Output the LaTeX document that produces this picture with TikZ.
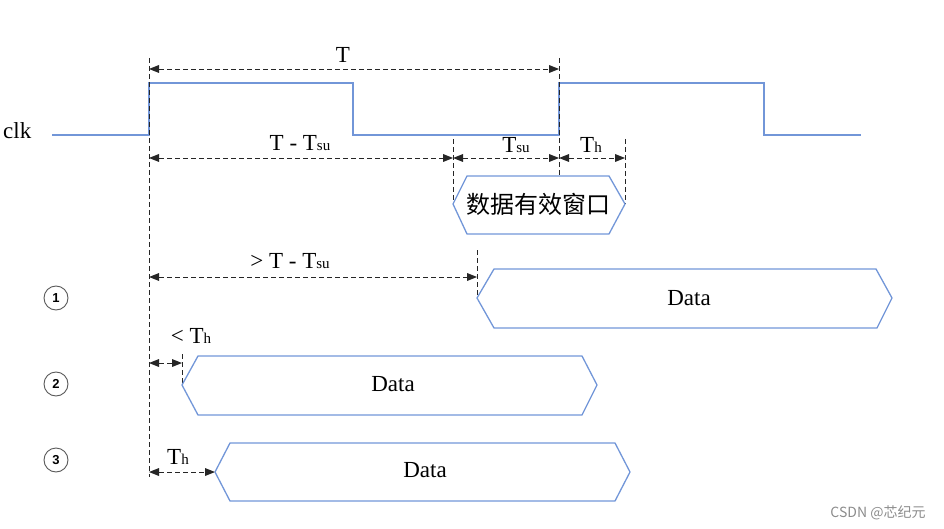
\documentclass[tikz,border=0pt]{standalone}
\usepackage{fontspec}
\setmainfont{Liberation Serif}
\newfontfamily\cjk{Noto Sans CJK SC}
\newfontfamily\numfont{Liberation Sans}
\usetikzlibrary{arrows.meta}
\definecolor{wavec}{RGB}{114,150,216}
\newcommand\lowsub[1]{{\fontsize{15}{15}\selectfont #1}}
\tikzset{
  wave/.style={draw=wavec, line width=1.3pt, line join=miter},
  guide/.style={draw=black!85, dash pattern=on 5pt off 3pt, line width=0.85pt},
  tipA/.tip={Triangle[length=10pt,width=8pt,line width=0pt]},
  dim/.style={guide, arrows={tipA-tipA}},
  lbl/.style={font=\fontsize{23}{23}\selectfont, inner sep=0pt},
  circ/.style={circle, draw=black!65, line width=0.9pt, minimum size=24pt, inner sep=0pt, font=\numfont\bfseries\fontsize{13}{13}\selectfont},
  hexa/.style={draw=wavec, line width=1.3pt, line join=miter}}
\begin{document}
\begin{tikzpicture}[x=1pt,y=-1pt]
\useasboundingbox (0,0) rectangle (944,529);
% clock
\node[lbl, anchor=west] (clk) at (3,131) {clk};
\coordinate (c0) at (52,135);
\coordinate (c1) at (149,135);
\coordinate (c2) at (149,83);
\coordinate (c3) at (353,83);
\coordinate (c4) at (353,135);
\coordinate (c5) at (559,135);
\coordinate (c6) at (559,83);
\coordinate (c7) at (764,83);
\coordinate (c8) at (764,135);
\coordinate (c9) at (861,135);
\draw[wave] (c0) -- (c1) -- (c2) -- (c3) -- (c4) -- (c5) -- (c6) -- (c7) -- (c8) -- (c9);
% guide lines
\coordinate (g1t) at (149,58);
\coordinate (g1b) at (149,477);
\coordinate (g2t) at (559,58);
\coordinate (g2b) at (559,176);
\coordinate (g3t) at (453,139);
\coordinate (g3b) at (453,204);
\coordinate (g4t) at (625,139);
\coordinate (g4b) at (625,204);
\coordinate (g5t) at (477,250);
\coordinate (g5b) at (477,298);
\coordinate (g6t) at (182,354);
\coordinate (g6b) at (182,384);
\draw[guide] (g1t) -- (g1b);
\draw[guide] (g2t) -- (g2b);
\draw[guide] (g3t) -- (g3b);
\draw[guide] (g4t) -- (g4b);
\draw[guide] (g5t) -- (g5b);
\draw[guide] (g6t) -- (g6b);
% T
\coordinate (ta) at (149,69);
\coordinate (tb) at (559,69);
\draw[dim] (ta) -- (tb);
\node[lbl] (tl) at (343,55) {T};
% T - Tsu, Tsu, Th
\coordinate (da) at (149,158);
\coordinate (db) at (453,158);
\coordinate (dc) at (559,158);
\coordinate (dd) at (625,158);
\draw[dim] (da) -- (db);
\draw[dim] (db) -- (dc);
\draw[dim] (dc) -- (dd);
\node[lbl] (l1) at (300,143) {T - T\lowsub{su}};
\node[lbl] (l2) at (516,145) {T\lowsub{su}};
\node[lbl] (l3) at (591,145) {T\lowsub{h}};
% window
\coordinate (w1) at (453,204);
\coordinate (w2) at (467,176);
\coordinate (w3) at (609,176);
\coordinate (w4) at (625,204);
\coordinate (w5) at (609,234);
\coordinate (w6) at (467,234);
\draw[hexa] (w1) -- (w2) -- (w3) -- (w4) -- (w5) -- (w6) -- cycle;
\node[font=\cjk\fontsize{24}{24}\selectfont, inner sep=0pt] (win) at (538,204) {数据有效窗口};
% case 1
\node[circ] (n1) at (56,298) {1};
\coordinate (ea) at (149,277);
\coordinate (eb) at (477,277);
\draw[dim] (ea) -- (eb);
\node[lbl] (l4) at (290,261) {> T - T\lowsub{su}};
\coordinate (p1) at (477,298);
\coordinate (p2) at (494,269);
\coordinate (p3) at (876,269);
\coordinate (p4) at (892,298);
\coordinate (p5) at (877,328);
\coordinate (p6) at (494,328);
\draw[hexa] (p1) -- (p2) -- (p3) -- (p4) -- (p5) -- (p6) -- cycle;
\node[lbl] (d1) at (689,298) {Data};
% case 2
\node[circ] (n2) at (56,384) {2};
\coordinate (fa) at (149,363);
\coordinate (fb) at (182,363);
\draw[dim] (fa) -- (fb);
\node[lbl] (l5) at (191,336) {< T\lowsub{h}};
\coordinate (q1) at (182,385);
\coordinate (q2) at (198,356);
\coordinate (q3) at (582,356);
\coordinate (q4) at (597,385);
\coordinate (q5) at (582,415);
\coordinate (q6) at (198,415);
\draw[hexa] (q1) -- (q2) -- (q3) -- (q4) -- (q5) -- (q6) -- cycle;
\node[lbl] (d2) at (393,384) {Data};
% case 3
\node[circ] (n3) at (56,460) {3};
\coordinate (ha) at (149,472);
\coordinate (hb) at (215,472);
\draw[dim] (ha) -- (hb);
\node[lbl] (l6) at (178,457) {T\lowsub{h}};
\coordinate (r1) at (215,472);
\coordinate (r2) at (230,443);
\coordinate (r3) at (615,443);
\coordinate (r4) at (630,472);
\coordinate (r5) at (615,501);
\coordinate (r6) at (230,501);
\draw[hexa] (r1) -- (r2) -- (r3) -- (r4) -- (r5) -- (r6) -- cycle;
\node[lbl] (d3) at (425,470) {Data};
% watermark
\node[font=\cjk\fontsize{14}{14}\selectfont, text=black!45, inner sep=0pt] (wm) at (878,513) {CSDN @芯纪元};
\end{tikzpicture}
\end{document}
